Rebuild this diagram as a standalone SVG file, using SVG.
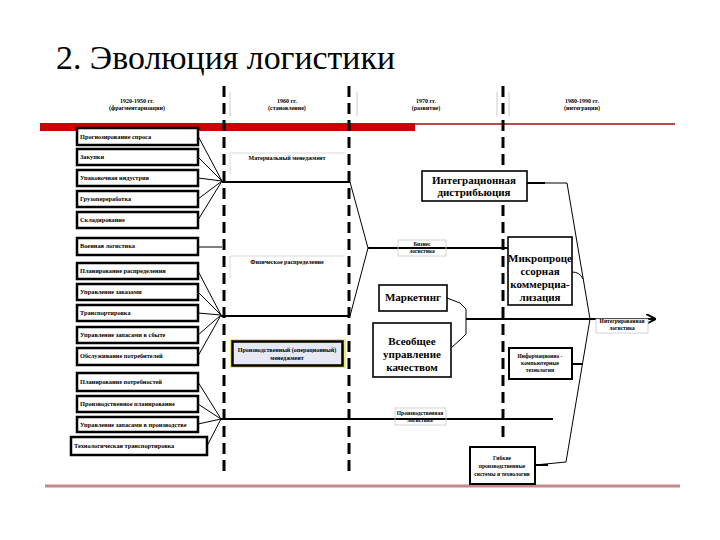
<svg xmlns="http://www.w3.org/2000/svg" width="720" height="540" viewBox="0 0 720 540">
<style>
text{font-family:'Liberation Serif','Times New Roman','DejaVu Serif','Noto Serif',serif;fill:#000}
.title{font-size:33px}
.hdr{font-size:6px;font-weight:bold;text-anchor:middle}
.lb rect{fill:#fff;stroke:#000;stroke-width:2.5}
.lb text{font-size:6.3px;font-weight:bold}
.mid text{font-size:6px;font-weight:bold;text-anchor:middle}
.big rect{fill:#fff;stroke:#000;stroke-width:1.6}
.big text{font-size:11px;font-weight:bold;text-anchor:middle}
.sm rect{fill:#fff;stroke:#000;stroke-width:2}
.sm text{font-size:5.5px;font-weight:bold;text-anchor:middle}
.lab rect{stroke:#c8c8c8;stroke-width:0.8}
.lab text{font-size:5.5px;font-weight:bold;text-anchor:middle}
.dash{stroke:#000;stroke-width:3;stroke-dasharray:11 6;fill:none}
.thin{stroke:#000;stroke-width:1;fill:none}
.thick{stroke:#000;stroke-width:2;fill:none}
.sep{stroke:#bdbdbd;stroke-width:0.8}
</style>
<defs>
<marker id="ar" viewBox="0 0 10 10" refX="9" refY="5" markerWidth="5" markerHeight="5" orient="auto">
<path d="M0,0 L10,5 L0,10" fill="none" stroke="#000" stroke-width="2"/>
</marker>
</defs>
<rect width="720" height="540" fill="#fff"/>
<text class="title" x="56" y="69" textLength="339" lengthAdjust="spacingAndGlyphs">2. Эволюция логистики</text>

<g id="header">
<line class="sep" x1="230" y1="92" x2="230" y2="116"/>
<line class="sep" x1="357" y1="92" x2="357" y2="116"/>
<line class="sep" x1="497" y1="92" x2="497" y2="116"/>
<line class="sep" x1="509" y1="92" x2="509" y2="116"/>
<text class="hdr" x="137" y="103">1920-1950 гг.</text>
<text class="hdr" x="137" y="110">(фрагментаризации)</text>
<text class="hdr" x="287" y="103">1960 гг.</text>
<text class="hdr" x="287" y="110">(становление)</text>
<text class="hdr" x="426" y="103">1970 гг.</text>
<text class="hdr" x="426" y="110">(развитие)</text>
<text class="hdr" x="582" y="103">1980-1990 гг.</text>
<text class="hdr" x="582" y="110">(интеграции)</text>
</g>
<rect x="40" y="123" width="375" height="8" fill="#cc0000"/>
<line x1="415" y1="124" x2="675" y2="124" stroke="#a01010" stroke-width="1.5"/>
<line x1="45" y1="486" x2="680" y2="486" stroke="#c48a8a" stroke-width="3"/>

<g id="dividers">
<line class="dash" x1="224" y1="86" x2="224" y2="472"/>
<line class="dash" x1="349" y1="86" x2="349" y2="476"/>
<line class="dash" x1="503" y1="86" x2="503" y2="440"/>
</g>

<g id="connectors">
<path class="thin" d="M198,136 L222,181 M198,157 L222,181 M198,178 L222,181 M198,199 L222,181 M198,220 L222,181"/>
<path class="thin" d="M198,271 L221,315 M198,292 L221,315 M198,313 L221,315 M198,335 L221,315 M198,356 L221,315"/>
<path class="thin" d="M198,382 L221,419 M198,404 L221,419 M198,424 L221,419 M207,446 L221,419"/>
<line class="thin" x1="198" y1="247" x2="222" y2="247"/>
<line class="thick" x1="222" y1="182" x2="350" y2="182"/>
<line class="thick" x1="221" y1="316" x2="350" y2="316"/>
<path class="thin" d="M350,182 L368,248 L350,316"/>
<line class="thick" x1="368" y1="248" x2="508" y2="248"/>
<line class="thick" x1="221" y1="419" x2="553" y2="419"/>
<path class="thin" d="M447,298 L460,303 L466,309 L466,334 L460,340 L451,348"/>
<line class="thick" x1="466" y1="319" x2="655" y2="319" marker-end="url(#ar)"/>
<path class="thin" d="M527,183 L567,183 L590,319 L566,462 L535,465"/>
<line class="thick" x1="527" y1="183" x2="545" y2="183"/>
<path class="thin" d="M572,272 Q580,272 583,279"/>
<line class="thick" x1="572" y1="364" x2="583" y2="364"/>
<line class="thick" x1="535" y1="465" x2="548" y2="465"/>
</g>

<g id="n1" class="lb"><rect x="77" y="128" width="121" height="17"/><text x="80" y="139">Прогнозирование спроса</text></g>
<g id="n2" class="lb"><rect x="77" y="149" width="121" height="16"/><text x="80" y="159">Закупки</text></g>
<g id="n3" class="lb"><rect x="77" y="170" width="121" height="16"/><text x="80" y="180">Упаковочная индустрия</text></g>
<g id="n4" class="lb"><rect x="77" y="191" width="121" height="16"/><text x="80" y="201">Грузопереработка</text></g>
<g id="n5" class="lb"><rect x="77" y="212" width="121" height="16"/><text x="80" y="222">Складирование</text></g>
<g id="n6" class="lb"><rect x="77" y="238" width="121" height="17"/><text x="80" y="248">Военная логистика</text></g>
<g id="n7" class="lb"><rect x="77" y="263" width="121" height="16"/><text x="80" y="273">Планирование распределения</text></g>
<g id="n8" class="lb"><rect x="77" y="284" width="121" height="16"/><text x="80" y="294">Управление заказами</text></g>
<g id="n9" class="lb"><rect x="77" y="305" width="121" height="16"/><text x="80" y="315">Транспортировка</text></g>
<g id="n10" class="lb"><rect x="77" y="327" width="121" height="16"/><text x="80" y="337">Управление запасами в сбыте</text></g>
<g id="n11" class="lb"><rect x="77" y="348" width="121" height="17"/><text x="80" y="358">Обслуживание потребителей</text></g>
<g id="n12" class="lb"><rect x="77" y="373" width="121" height="18"/><text x="80" y="384">Планирование потребностей</text></g>
<g id="n13" class="lb"><rect x="77" y="396" width="121" height="16"/><text x="80" y="406">Производственное планирование</text></g>
<g id="n14" class="lb"><rect x="77" y="417" width="121" height="15"/><text x="80" y="427">Управление запасами в производстве</text></g>
<g id="n15" class="lb"><rect x="71" y="437" width="136" height="18"/><text x="74" y="448">Технологическая транспортировка</text></g>

<g id="m1" class="mid">
<path d="M230,175 L230,153 L345,153" fill="none" stroke="#d0d0d0" stroke-width="0.8"/>
<text x="287" y="160">Материальный менеджмент</text>
</g>
<g id="m2" class="mid">
<path d="M230,278 L230,256 L345,256" fill="none" stroke="#d0d0d0" stroke-width="0.8"/>
<text x="287" y="264">Физическое распределение</text>
</g>
<g id="m3" class="mid">
<rect x="230" y="339" width="116" height="29" fill="#f0ea60"/>
<rect x="232.5" y="341.5" width="110" height="24" fill="#e6e8f4" stroke="#000" stroke-width="2.5"/>
<text x="287" y="352">Производственный (операционный)</text>
<text x="287" y="360">менеджмент</text>
</g>

<g id="l1" class="lab"><rect x="398" y="240" width="48" height="16" fill="none"/><text x="422" y="246">Бизнес</text><text x="422" y="253">логистика</text></g>
<g id="l2" class="lab"><rect x="395" y="408" width="51" height="17" fill="none"/><text x="420" y="415">Производственная</text><text x="420" y="422">логистика</text></g>
<g id="l3" class="lab"><rect x="596" y="319" width="52" height="14" fill="#fff"/><text x="622" y="323">Интегрированная</text><text x="622" y="330">логистика</text></g>

<g id="r1" class="big"><rect x="422" y="171" width="105" height="30"/><text x="474" y="184">Интеграционная</text><text x="474" y="196">дистрибьюция</text></g>
<g id="r2" class="big"><rect x="379" y="285" width="68" height="26"/><text x="413" y="301">Маркетинг</text></g>
<g id="r3" class="big"><rect x="373" y="323" width="78" height="54"/><text x="412" y="345">Всеобщее</text><text x="412" y="358">управление</text><text x="412" y="371">качеством</text></g>
<g id="r4" class="big"><rect x="508" y="237" width="64" height="68"/><text x="540" y="262">Микропроце</text><text x="540" y="275">ссорная</text><text x="540" y="288">коммерциа-</text><text x="540" y="301">лизация</text></g>
<g id="r5" class="sm"><rect x="509" y="348" width="63" height="31"/><text x="540" y="358">Информационно -</text><text x="540" y="365">компьютерные</text><text x="540" y="372">технологии</text></g>
<g id="r6" class="sm"><rect x="470" y="447" width="65" height="37"/><text x="502" y="460">Гибкие</text><text x="502" y="468">производственные</text><text x="502" y="476">системы и технологии</text></g>
</svg>
